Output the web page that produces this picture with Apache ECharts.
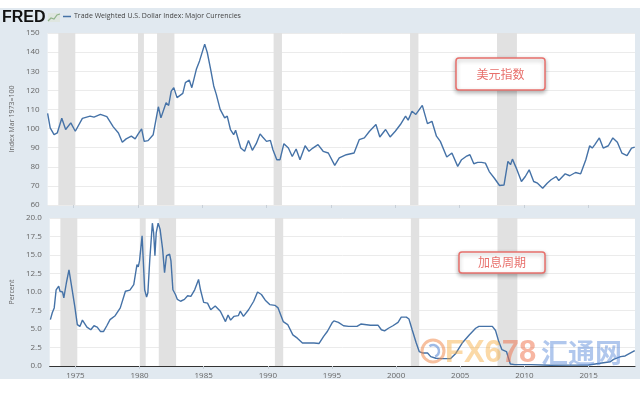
<!DOCTYPE html>
<html><head><meta charset="utf-8">
<script src="https://cdn.jsdelivr.net/npm/echarts@6/dist/echarts.min.js"></script>
<style>html,body{margin:0;padding:0;background:#fff}#c{width:640px;height:393px}</style>
</head><body><div id="c"></div>
<script>
// Trade Weighted U.S. Dollar Index: Major Currencies (Index Mar 1973=100)
const usdYears = [1973.0,1973.2,1973.5,1973.75,1974.1,1974.4,1974.8,1975.15,1975.7,1976.3,1976.6,1977.1,1977.6,1978.1,1978.5,1978.8,1979.1,1979.5,1979.8,1980.0,1980.3,1980.5,1980.8,1981.2,1981.6,1981.8,1982.2,1982.4,1982.6,1982.8,1983.05,1983.5,1983.7,1984.0,1984.2,1984.55,1984.8,1984.95,1985.2,1985.4,1985.65,1985.9,1986.1,1986.4,1986.75,1986.95,1987.2,1987.45,1987.6,1988.0,1988.3,1988.6,1988.9,1989.2,1989.5,1989.7,1990.0,1990.3,1990.5,1990.8,1991.05,1991.35,1991.7,1992.0,1992.3,1992.6,1993.0,1993.3,1993.6,1994.0,1994.4,1994.8,1995.3,1995.65,1996.2,1996.8,1997.2,1997.6,1998.0,1998.5,1998.8,1999.25,1999.6,2000.0,2000.4,2000.8,2001.0,2001.3,2001.6,2002.1,2002.5,2002.85,2003.2,2003.5,2004.0,2004.4,2004.85,2005.15,2005.5,2005.8,2006.1,2006.4,2006.7,2007.0,2007.3,2007.7,2008.1,2008.45,2008.75,2008.95,2009.1,2009.4,2009.8,2010.1,2010.4,2010.75,2011.05,2011.45,2011.8,2012.1,2012.5,2012.7,2013.2,2013.55,2014.0,2014.4,2014.8,2015.1,2015.3,2015.5,2015.85,2016.15,2016.55,2016.9,2017.25,2017.6,2018.0,2018.35,2018.6];
const usdValues = [108,100.4,96.8,97.7,105.4,99.5,103,98.6,105.3,106.5,106,107.4,106.2,100.9,97.7,92.8,94.6,96,94.6,96.8,99.8,93.3,93.7,96.8,111.4,105.6,113.5,112.1,119.6,121.4,116.2,118.4,124,125.4,121.4,131,135.4,134.6,144.2,139.8,131.4,122.3,117.9,110,105.6,106.5,99.5,96.8,99.1,89.8,88.1,93.8,88.6,92.1,97.2,95.6,93.3,93.8,88.9,83.7,83.7,92.1,89.8,85.4,89.3,83.7,91,88.1,89.8,91.6,88.1,87.2,80.7,84.6,86.3,87.2,94.2,95.1,98.6,102.1,95.6,99.5,95.6,98.6,102.1,106.5,104.4,109.1,107.4,112.1,102.6,103.8,96,93.3,85.1,87.2,80.2,83.7,85.4,86.3,81.6,82.3,82.3,81.9,77.5,74,70.2,70.5,82.8,81.1,84,79.3,72.3,74.9,78.4,72.3,71.4,68.8,71.4,73.2,74.9,72.8,76.3,75.3,77,76.3,83.7,91,89.8,91.6,95.1,89.8,91,95.1,92.8,87.2,85.8,89.8,90.3];

// Effective federal funds rate (Percent)
const rateYears = [1973.05,1973.2,1973.35,1973.5,1973.7,1973.8,1974.0,1974.1,1974.3,1974.5,1974.75,1974.95,1975.15,1975.35,1975.55,1975.7,1975.9,1976.2,1976.45,1976.7,1976.95,1977.2,1977.45,1977.7,1978.1,1978.5,1978.9,1979.25,1979.55,1979.8,1979.9,1980.0,1980.2,1980.28,1980.4,1980.55,1980.65,1980.8,1981.0,1981.1,1981.2,1981.3,1981.45,1981.6,1981.8,1981.95,1982.1,1982.35,1982.45,1982.6,1982.8,1982.95,1983.2,1983.5,1983.75,1984.0,1984.3,1984.6,1984.75,1985.0,1985.3,1985.55,1985.9,1986.3,1986.7,1986.9,1987.1,1987.35,1987.7,1987.85,1988.1,1988.5,1988.9,1989.2,1989.5,1989.8,1990.15,1990.55,1990.8,1991.2,1991.55,1991.95,1992.3,1992.7,1993.1,1993.6,1994.0,1994.35,1994.65,1995.0,1995.15,1995.5,1995.9,1996.3,1996.95,1997.25,1998.0,1998.6,1998.85,1999.1,1999.4,1999.75,2000.15,2000.4,2000.8,2001.0,2001.25,2001.55,2001.8,2002.1,2002.45,2002.7,2003.1,2003.6,2004.25,2004.65,2005.15,2005.7,2006.2,2006.45,2007.5,2007.75,2008.0,2008.25,2008.6,2008.9,2009.25,2010.5,2012.0,2013.5,2015.0,2015.9,2016.7,2016.95,2017.5,2017.85,2018.1,2018.6];
const rateValues = [6.26,7.2,7.85,10.3,10.8,10.1,10,9.2,11.25,13,10.3,8.1,5.6,5.35,6.2,6.26,5.26,4.9,5.44,5.26,4.67,4.67,5.44,6.26,6.8,7.85,10.1,10.25,11,13.7,13.4,14.2,17.6,17.6,10.3,9.3,9.9,14.4,19.3,18,14.9,18,19.3,18.5,15.8,12.6,14.9,15.1,14.2,10.3,9.66,9,8.75,9,9.5,9.4,10.3,11.7,10.3,8.6,8.5,7.6,8.1,7.4,6,6.9,6.2,6.7,6.8,7.4,6.7,7.6,8.75,10,9.66,8.9,8.3,8.2,7.85,6,5.6,4.2,3.76,3.1,3.1,3.1,3.05,4,4.7,5.8,6.1,5.9,5.44,5.35,5.35,5.67,5.5,5.5,4.9,4.75,5.1,5.44,5.9,6.6,6.6,6.35,4.9,3.2,1.95,1.75,1.75,1.27,1.05,1,1,1.7,3.1,4.2,5.1,5.35,5.35,4.8,3.3,2.2,1.95,0.27,0.18,0.18,0.1,0.12,0.14,0.37,0.58,0.9,1.27,1.36,1.6,2.08];

// Recession periods (start, end)
const recessionStarts = [1973.83,1980.02,1981.5,1990.55,2001.15,2007.9];
const recessionEnds   = [1975.15,1980.48,1982.85,1991.2,2001.8,2009.45];

const tickYears = [1975,1980,1985,1990,1995,2000,2005,2010,2015];
const topTitle = 'Trade Weighted U.S. Dollar Index: Major Currencies';
const topAxisName = 'Index Mar 1973=100';
const bottomAxisName = 'Percent';
const note1 = '美元指数';
const note2 = '加息周期';

const usdData = usdYears.map((x,i)=>[x,usdValues[i]]);
const rateData = rateYears.map((x,i)=>[x,rateValues[i]]);
const bands = recessionStarts.map((s,i)=>[{xAxis:s},{xAxis:recessionEnds[i]}]);

const LINE = '#4572a7';
const chart = echarts.init(document.getElementById('c'), null, {renderer:'canvas'});
const xBase = {type:'value', min:1973.0, max:2018.62, splitLine:{show:false}};
const yLabel = {color:'#666', fontSize:8, fontFamily:'Open Sans', margin:8};
chart.setOption({
  backgroundColor:'#e1e9f0',
  animation:false,
  grid:[
    {left:43, right:5, top:33, height:172, show:true, backgroundColor:'#fff', borderWidth:0},
    {left:43, right:5, top:218, height:148, show:true, backgroundColor:'#fff', borderWidth:0}
  ],
  xAxis:[
    Object.assign({gridIndex:0, axisLine:{show:false}, axisLabel:{show:false},
      axisTick:{show:true, customValues:tickYears, length:3, lineStyle:{color:'#c8d0d8'}}}, xBase),
    Object.assign({gridIndex:1, axisLine:{show:true, onZero:false, lineStyle:{color:'#333', width:1.2}},
      axisTick:{show:true, customValues:tickYears, length:3, lineStyle:{color:'#c8d0d8'}},
      axisLabel:{customValues:tickYears, color:'#666', fontSize:8, fontFamily:'Open Sans', margin:6, formatter:v=>String(v)}}, xBase)
  ],
  yAxis:[
    {type:'value', gridIndex:0, min:60, max:150, interval:10, axisLine:{show:false}, axisTick:{show:false},
     axisLabel:yLabel, splitLine:{lineStyle:{color:'#ebebeb'}},
     name:topAxisName, nameLocation:'middle', nameGap:30, nameTextStyle:{color:'#666', fontSize:7, fontFamily:'Open Sans'}},
    {type:'value', gridIndex:1, min:0, max:20, interval:2.5, axisLine:{show:false}, axisTick:{show:false},
     axisLabel:Object.assign({formatter:v=>v.toFixed(1)}, yLabel), splitLine:{lineStyle:{color:'#ebebeb'}},
     name:bottomAxisName, nameLocation:'middle', nameGap:31, nameTextStyle:{color:'#666', fontSize:7, fontFamily:'Open Sans'}}
  ],
  series:[
    {type:'line', xAxisIndex:0, yAxisIndex:0, data:usdData, showSymbol:false, lineStyle:{color:LINE, width:1.4},
     markArea:{silent:true, itemStyle:{color:'#e1e1e1'}, data:bands}, z:3},
    {type:'line', xAxisIndex:1, yAxisIndex:1, data:rateData, showSymbol:false, lineStyle:{color:LINE, width:1.4},
     markArea:{silent:true, itemStyle:{color:'#e1e1e1'}, data:bands}, z:3}
  ],
  graphic:[
    {type:'rect', shape:{x:0,y:0,width:640,height:8}, style:{fill:'#fff'}, silent:true},
    {type:'rect', shape:{x:0,y:379,width:640,height:14}, style:{fill:'#fff'}, silent:true},
    {type:'text', left:2, top:10, style:{text:'FRED', fontSize:16, fontWeight:900, fontFamily:'Liberation Sans', fill:'#111'}},
    {type:'rect', shape:{x:48,y:13,width:12,height:9}, style:{fill:'#dfe6e0'}},
    {type:'polyline', shape:{points:[[48,21],[51,18],[54,19],[57,15],[60,14]]}, style:{stroke:'#8fb38a', lineWidth:1.2, fill:null}},
    {type:'line', shape:{x1:63,y1:16.5,x2:71,y2:16.5}, style:{stroke:LINE, lineWidth:1.5}},
    {type:'text', left:74, top:12, style:{text:topTitle, fontSize:7, fontFamily:'Open Sans', fill:'#444'}},
    {type:'rect', shape:{x:456,y:58,width:89,height:32,r:3}, z:10,
     style:{fill:'#fff', stroke:'#e8706c', lineWidth:1.5, shadowBlur:4, shadowOffsetY:2, shadowColor:'rgba(0,0,0,0.3)'}},
    {type:'text', x:500.5, y:74, z:11, style:{text:note1, fontSize:12, fontFamily:'Noto Sans CJK SC', fill:'#e8706c', align:'center', verticalAlign:'middle'}},
    {type:'rect', shape:{x:459,y:252,width:86,height:21,r:3}, z:10,
     style:{fill:'#fff', stroke:'#e8706c', lineWidth:1.5, shadowBlur:4, shadowOffsetY:2, shadowColor:'rgba(0,0,0,0.3)'}},
    {type:'text', x:502, y:262.5, z:11, style:{text:note2, fontSize:12, fontFamily:'Noto Sans CJK SC', fill:'#e8706c', align:'center', verticalAlign:'middle'}},
    // watermark
    {type:'circle', shape:{cx:433, cy:351, r:11}, z:20, style:{fill:null, stroke:'rgba(240,140,80,0.55)', lineWidth:3}},
    {type:'arc', shape:{cx:433, cy:351, r:6, startAngle:-2.2, endAngle:1.2}, z:20, style:{fill:null, stroke:'rgba(80,130,210,0.55)', lineWidth:2.5}},
    {type:'text', x:445, y:353, z:20, style:{text:'{a|FX6}{b|78}', verticalAlign:'middle',
      rich:{a:{fontSize:31, fontWeight:'bold', fontFamily:'Liberation Sans', fill:'rgba(247,170,60,0.45)'},
            b:{fontSize:31, fontWeight:'bold', fontFamily:'Liberation Sans', fill:'rgba(240,110,70,0.5)'}}}},
    {type:'text', x:541, y:353, z:20, style:{text:'汇通网', fontSize:27, fontWeight:'bold', fontFamily:'Noto Sans CJK SC', fill:'rgba(80,130,215,0.45)', verticalAlign:'middle'}}
  ]
});
</script></body></html>
